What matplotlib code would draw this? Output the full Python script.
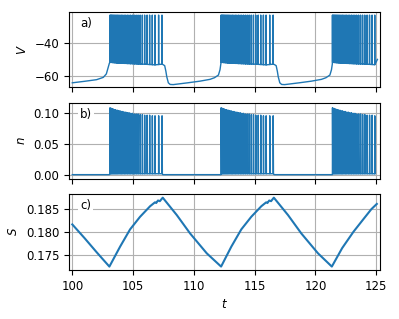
import numpy as np
import matplotlib
matplotlib.use("Agg")
import matplotlib.pyplot as plt

plt.rcParams["font.size"] = 8.5

# burst onsets and spike times inside a burst (offset from onset)
burst_onsets = [103.10, 112.24, 121.40]
spike_offsets = [0.0, 0.06, 0.125, 0.195, 0.27, 0.35, 0.435, 0.525, 0.62, 0.72,
                 0.825, 0.935, 1.05, 1.17, 1.295, 1.425, 1.56, 1.70, 1.845, 1.995,
                 2.15, 2.31, 2.48, 2.66, 2.85, 3.05, 3.26, 3.48, 3.70, 4.00, 4.28]
v_peak = -22.8
v_troughs = [-51.5, -51.5, -51.5, -51.6, -51.6, -51.7, -51.7, -51.8, -51.8, -51.9,
             -51.9, -52.0, -52.0, -52.1, -52.1, -52.2, -52.2, -52.3, -52.3, -52.4,
             -52.4, -52.5, -52.5, -52.6, -52.6, -52.7, -52.8, -52.9, -53.0, -52.8,
             -52.6]
n_peaks = [0.109, 0.108, 0.108, 0.107, 0.107, 0.106, 0.106, 0.105, 0.105, 0.104,
           0.104, 0.103, 0.103, 0.102, 0.102, 0.101, 0.101, 0.100, 0.100, 0.099,
           0.099, 0.099, 0.098, 0.098, 0.097, 0.097, 0.097, 0.096, 0.096, 0.096,
           0.096]
n_trough = 0.002
n_rest = 0.0005

# silent phases of V
v_quiet_t = [
    [100.0, 101.0, 102.0, 102.55, 102.8, 102.96, 103.05],
    [107.45, 107.6, 107.7, 107.77, 107.9, 108.05, 108.3, 109.5, 110.5, 111.33,
     111.7, 112.02, 112.15, 112.22],
    [116.62, 116.77, 116.87, 116.94, 117.07, 117.22, 117.47, 118.67, 119.67,
     120.5, 120.87, 121.19, 121.32, 121.39],
]
v_quiet_v = [
    [-63.9, -63.0, -62.0, -60.6, -58.5, -54.2, -52.0],
    [-52.8, -53.5, -57.0, -60.2, -63.9, -64.9, -65.0, -63.9, -62.9, -61.8,
     -60.8, -59.2, -56.0, -52.5],
    [-52.8, -53.5, -57.0, -60.2, -63.9, -64.9, -65.0, -63.9, -62.9, -61.8,
     -60.8, -59.2, -56.0, -52.5],
]

# slow variable S
s_t = [100.0, 101.0, 102.0, 102.6, 103.05,
       103.93, 104.75, 105.57, 106.4, 106.8, 106.9, 107.05, 107.2, 107.44,
       108.6, 109.69, 111.06, 112.24,
       113.08, 113.90, 114.72, 115.55, 115.95, 116.05, 116.2, 116.35, 116.58,
       117.75, 118.84, 120.21, 121.35,
       122.2, 123.13, 124.0, 124.6, 125.05]
s_v = [0.18167, 0.17870, 0.17560, 0.17380, 0.17246,
       0.17681, 0.18058, 0.18333, 0.18565, 0.18650, 0.18635, 0.18690, 0.18675, 0.18752,
       0.18370, 0.17970, 0.17536, 0.17246,
       0.17681, 0.18058, 0.18333, 0.18565, 0.18650, 0.18635, 0.18690, 0.18675, 0.18752,
       0.18370, 0.17970, 0.17536, 0.17246,
       0.17650, 0.18007, 0.18300, 0.18500, 0.18615]

t_end = 125.1


def build_traces():
    vt, vv, nt, nv = [], [], [], []
    for k, onset in enumerate(burst_onsets):
        vt += v_quiet_t[k]
        vv += v_quiet_v[k]
        nt += [v_quiet_t[k][0], v_quiet_t[k][-1]]
        nv += [n_rest, n_rest]
        for i, off in enumerate(spike_offsets):
            ts = onset + off
            if ts > t_end:
                break
            vt += [ts - 0.004, ts, ts + 0.008]
            vv += [v_troughs[i], v_peak, v_troughs[i]]
            nt += [ts - 0.003, ts + 0.004, ts + 0.028]
            nv += [n_trough, n_peaks[i], n_trough]
    vt.append(t_end)
    vv.append(-49.7)
    return vt, vv, nt, nv


vt, vv, nt, nv = build_traces()

fig = plt.figure(figsize=(3.99, 3.19), dpi=100)
ax1 = fig.add_axes([0.173, 0.727, 0.779, 0.235])
ax2 = fig.add_axes([0.173, 0.439, 0.779, 0.238], sharex=ax1)
ax3 = fig.add_axes([0.173, 0.154, 0.779, 0.238], sharex=ax1)

ax1.plot(vt, vv, lw=1.0)
ax2.plot(nt, nv, lw=1.0)
ax3.plot(s_t, s_v, lw=1.5)

ax1.set_ylim(-66.5, -21)
ax1.set_yticks([-60, -40])
ax2.set_ylim(-0.0065, 0.1167)
ax2.set_yticks([0.0, 0.05, 0.10])
ax2.set_yticklabels(["0.00", "0.05", "0.10"])
ax3.set_ylim(0.17174, 0.18833)
ax3.set_yticks([0.175, 0.180, 0.185])
ax3.set_yticklabels(["0.175", "0.180", "0.185"])
ax3.set_xlim(99.73, 125.3)
ax3.set_xticks([100, 105, 110, 115, 120, 125])

ax1.set_ylabel("$V$")
ax2.set_ylabel("$n$")
ax3.set_ylabel("$S$")
ax3.set_xlabel("$t$")

for ax, lab in zip([ax1, ax2, ax3], ["a)", "b)", "c)"]):
    ax.grid(True)
    ax.text(0.035, 0.85, lab, transform=ax.transAxes, ha="left", va="center",
            bbox=dict(facecolor="white", edgecolor="none", pad=1.5))
    if ax is not ax3:
        ax.tick_params(labelbottom=False)

fig.savefig("out.png", dpi=100)
